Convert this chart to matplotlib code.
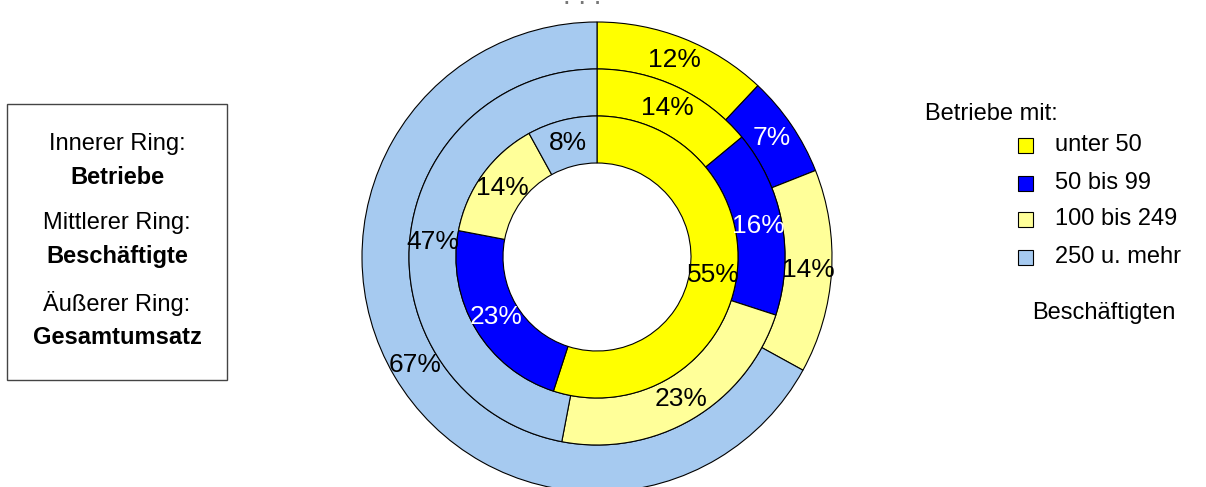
import matplotlib
matplotlib.use("Agg")
import matplotlib.pyplot as plt
from matplotlib.patches import Rectangle

plt.rcParams['font.family'] = ['Liberation Sans', 'DejaVu Sans']

# size classes (Betriebe mit ... Beschaeftigten)
groups = ["unter 50", "50 bis 99", "100 bis 249", "250 u. mehr"]
colors = ["#FFFF00", "#0000FF", "#FFFF99", "#A6CAF0"]

# shares in percent per ring
betriebe = [55, 23, 14, 8]          # inner ring
beschaeftigte = [14, 16, 23, 47]    # middle ring
umsatz = [12, 7, 14, 67]            # outer ring

W, H = 1206, 487
fig = plt.figure(figsize=(W / 100, H / 100), dpi=100)

# pie axes, centre (597, 257) px, radius 235 px
cx, cy, R = 597, 257, 235
ax = fig.add_axes([(cx - R) / W, (H - cy - R) / H, 2 * R / W, 2 * R / H])
ax.set_axis_off()

rings = [(1.0, umsatz), (0.8, beschaeftigte), (0.6, betriebe)]
for radius, vals in rings:
    wedges, texts, autotexts = ax.pie(
        vals, radius=radius, colors=colors, startangle=90, counterclock=False,
        wedgeprops=dict(width=0.2, edgecolor='black', linewidth=0.8),
        autopct=lambda p: f'{p:.0f}%', pctdistance=(radius - 0.1) / radius,
        textprops=dict(fontsize=19))
    for t, c in zip(autotexts, colors):
        t.set_color('white' if c == "#0000FF" else 'black')

ax.set_xlim(-1, 1)
ax.set_ylim(-1, 1)
ax.set_aspect('equal')

# remains of the title at the top edge
fig.text(582 / W, 1 - 4 / H, ". . .", ha='center', va='baseline', fontsize=20, color='#777777')

# description box on the left
fig.add_artist(Rectangle((7 / W, (H - 380) / H), 220 / W, 276 / H,
                         transform=fig.transFigure, fill=False,
                         edgecolor='#444444', linewidth=1))
box_lines = [("Innerer Ring:", 144, 'normal'), ("Betriebe", 177, 'bold'),
             ("Mittlerer Ring:", 223, 'normal'), ("Beschäftigte", 257, 'bold'),
             ("Äußerer Ring:", 303, 'normal'), ("Gesamtumsatz", 338, 'bold')]
for txt, y, wt in box_lines:
    fig.text(117 / W, 1 - y / H, txt, ha='center', va='center',
             fontsize=17, fontweight=wt)

# legend on the right
fig.text(925 / W, 1 - 114 / H, "Betriebe mit:", ha='left', va='center', fontsize=17)
leg_y = [145, 183, 219, 257]
for name, c, y in zip(groups, colors, leg_y):
    fig.add_artist(Rectangle((1018 / W, 1 - (y + 7.5) / H), 15 / W, 15 / H,
                             transform=fig.transFigure, facecolor=c,
                             edgecolor='black', linewidth=0.8))
    fig.text(1055 / W, 1 - y / H, name, ha='left', va='center', fontsize=17)
fig.text(1104 / W, 1 - 313 / H, "Beschäftigten", ha='center', va='center', fontsize=17)

fig.savefig("out.png", dpi=100)
